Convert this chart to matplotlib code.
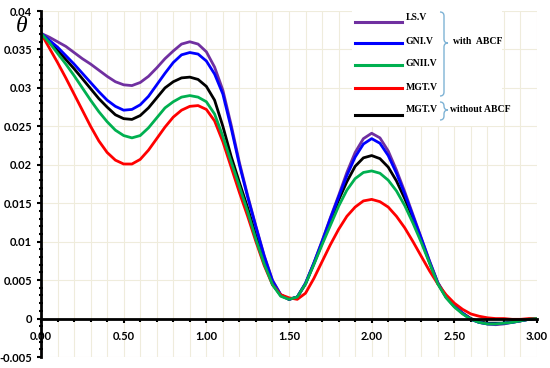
import numpy as np
import matplotlib.pyplot as plt
from matplotlib.lines import Line2D
from matplotlib.patches import Rectangle, PathPatch
from matplotlib.path import Path
from matplotlib.ticker import MultipleLocator, FuncFormatter

# values, step 0.05
x = np.round(np.arange(0, 3.001, 0.05), 2)

ls_v = [0.0371, 0.0366, 0.0360, 0.0354, 0.0346, 0.0338, 0.0331, 0.0323, 0.0315, 0.0308,
        0.0304, 0.0303, 0.0307, 0.0315, 0.0326, 0.0338, 0.0348, 0.0357, 0.0360, 0.0357,
        0.0347, 0.0327, 0.0297, 0.0252, 0.0203, 0.0160, 0.0120, 0.0082, 0.0050, 0.0031,
        0.0025, 0.0028, 0.0046, 0.0072, 0.0101, 0.0131, 0.0160, 0.0190, 0.0216, 0.0234,
        0.0241, 0.0235, 0.0218, 0.0193, 0.0165, 0.0135, 0.0105, 0.0075, 0.0047, 0.0029,
        0.0017, 0.0007, -0.0001, -0.0005, -0.0007, -0.0008, -0.0007, -0.0005, -0.0003, -0.0001,
        0.0]
gn1_v = [0.0371, 0.0362, 0.0353, 0.0342, 0.0331, 0.0319, 0.0307, 0.0295, 0.0284, 0.0276,
         0.0271, 0.0272, 0.0278, 0.0289, 0.0304, 0.0319, 0.0333, 0.0343, 0.0346, 0.0344,
         0.0335, 0.0318, 0.0292, 0.0248, 0.0200, 0.0158, 0.0119, 0.0081, 0.0049, 0.0031,
         0.0025, 0.0028, 0.0046, 0.0072, 0.0100, 0.0130, 0.0158, 0.0186, 0.0210, 0.0227,
         0.0234, 0.0228, 0.0212, 0.0189, 0.0162, 0.0133, 0.0104, 0.0074, 0.0046, 0.0028,
         0.0016, 0.0007, -0.0001, -0.0005, -0.0007, -0.0007, -0.0006, -0.0005, -0.0003, -0.0001,
         0.0]
gn2_v = [0.0371, 0.0359, 0.0345, 0.0331, 0.0316, 0.0300, 0.0284, 0.0269, 0.0256, 0.0245,
         0.0238, 0.0235, 0.0238, 0.0248, 0.0261, 0.0274, 0.0282, 0.0288, 0.0290, 0.0288,
         0.0282, 0.0266, 0.0237, 0.0204, 0.0172, 0.0139, 0.0103, 0.0071, 0.0044, 0.0029,
         0.0025, 0.0028, 0.0045, 0.0070, 0.0096, 0.0121, 0.0146, 0.0167, 0.0182, 0.0190,
         0.0192, 0.0189, 0.0180, 0.0166, 0.0147, 0.0124, 0.0099, 0.0072, 0.0045, 0.0027,
         0.0015, 0.0006, -0.0001, -0.0005, -0.0007, -0.0007, -0.0006, -0.0005, -0.0003, -0.0001,
         0.0]
mgt_v = [0.0371, 0.0352, 0.0333, 0.0313, 0.0292, 0.0271, 0.0250, 0.0231, 0.0216, 0.0206,
         0.0201, 0.0201, 0.0207, 0.0219, 0.0234, 0.0249, 0.0262, 0.0271, 0.0276, 0.0277,
         0.0272, 0.0257, 0.0230, 0.0197, 0.0164, 0.0133, 0.0100, 0.0069, 0.0044, 0.0031,
         0.0027, 0.0025, 0.0033, 0.0052, 0.0074, 0.0096, 0.0116, 0.0133, 0.0145, 0.0153,
         0.0155, 0.0152, 0.0145, 0.0133, 0.0118, 0.0100, 0.0081, 0.0062, 0.0045, 0.0031,
         0.0020, 0.0012, 0.0006, 0.0003, 0.0001, 0.0000, 0.0000, -0.0001, -0.0001, 0.0000,
         0.0]
mgt_no = [0.0371, 0.0360, 0.0349, 0.0337, 0.0325, 0.0312, 0.0299, 0.0286, 0.0275, 0.0265,
          0.0260, 0.0259, 0.0264, 0.0274, 0.0287, 0.0300, 0.0308, 0.0313, 0.0314, 0.0311,
          0.0302, 0.0284, 0.0250, 0.0211, 0.0177, 0.0144, 0.0108, 0.0074, 0.0045, 0.0030,
          0.0025, 0.0028, 0.0045, 0.0071, 0.0098, 0.0126, 0.0154, 0.0178, 0.0198, 0.0209,
          0.0212, 0.0208, 0.0197, 0.0179, 0.0156, 0.0130, 0.0102, 0.0073, 0.0046, 0.0028,
          0.0016, 0.0007, 0.0000, -0.0004, -0.0006, -0.0006, -0.0006, -0.0004, -0.0003, -0.0001,
          0.0]

labels = ["LS.V", "GNI.V", "GNII.V", "MGT.V", "MGT.V"]
colors = ["#7030a0", "#0000ff", "#00b050", "#ff0000", "#000000"]

fig = plt.figure(figsize=(5.5, 3.68), dpi=100)
ax = fig.add_axes([41/550, 1 - 357/368, (537-41)/550, (357-11)/368])

ax.plot(x, mgt_no, color=colors[4], lw=2.0)
ax.plot(x, ls_v, color=colors[0], lw=2.0)
ax.plot(x, gn1_v, color=colors[1], lw=2.0)
ax.plot(x, mgt_v, color=colors[3], lw=2.0)
ax.plot(x, gn2_v, color=colors[2], lw=2.0)

ax.set_xlim(0, 3)
ax.set_ylim(-0.005, 0.04)

ax.xaxis.set_major_locator(MultipleLocator(0.5))
ax.xaxis.set_minor_locator(MultipleLocator(0.1))
ax.yaxis.set_major_locator(MultipleLocator(0.005))
ax.yaxis.set_minor_locator(MultipleLocator(0.001))
ax.xaxis.set_major_formatter(FuncFormatter(lambda v, p: f"{v:.2f}"))
ax.yaxis.set_major_formatter(FuncFormatter(lambda v, p: "0" if abs(v) < 1e-9 else f"{v:g}"))

gc = "#efecdc"
ax.grid(True, which="both", axis="x", color=gc, lw=0.8)
ax.grid(True, which="major", axis="y", color=gc, lw=0.8)
ax.set_axisbelow(True)

for s in ["top", "right"]:
    ax.spines[s].set_visible(False)
ax.spines["bottom"].set_position(("data", 0))
ax.spines["bottom"].set_linewidth(2)
ax.spines["left"].set_linewidth(2)

ax.tick_params(axis="both", which="major", labelsize=8, width=1.5, length=3)
ax.tick_params(axis="y", which="minor", direction="inout", length=2.5, width=1.5)
ax.tick_params(axis="x", which="minor", direction="out", length=2.5, width=1.5)
ax.tick_params(axis="x", which="major", pad=6)
for lab in ax.get_xticklabels() + ax.get_yticklabels():
    lab.set_fontfamily("Lato")
    lab.set_fontweight("bold")

fig.text(22/550, 1 - 27/368, "θ", fontsize=17, style="italic",
         family="Liberation Serif", ha="center", va="center")

# legend, drawn by hand in figure pixels
def fx(px):
    return px / 550

def fy(py):
    return 1 - py / 368

fig.add_artist(Rectangle((fx(352), fy(126)), fx(150), 118/368, transform=fig.transFigure,
                         facecolor="white", edgecolor="none", zorder=5))
rows = [21.7, 42.7, 65, 88.3, 115]
text_rows = [18, 42, 63, 88, 110]
for i in range(5):
    fig.add_artist(Line2D([fx(355), fx(402)], [fy(rows[i]), fy(rows[i])], color=colors[i],
                          lw=2.2, transform=fig.transFigure, zorder=6))
    fig.text(fx(406), fy(text_rows[i]), labels[i], fontsize=7, fontweight="bold",
             family="Liberation Serif", va="center", ha="left", zorder=6)

def brace(x0, y_top, y_tip, y_bot, w=4, tip=4):
    verts = [(x0, y_top), (x0 + w, y_top), (x0 + w, y_top + 4),
             (x0 + w, y_tip - 4),
             (x0 + w, y_tip), (x0 + w + tip, y_tip), (x0 + w + tip, y_tip),
             (x0 + w, y_tip), (x0 + w, y_tip + 4),
             (x0 + w, y_bot - 4),
             (x0 + w, y_bot), (x0, y_bot)]
    codes = [Path.MOVETO, Path.CURVE3, Path.CURVE3, Path.LINETO,
             Path.CURVE3, Path.CURVE3, Path.MOVETO,
             Path.CURVE3, Path.CURVE3, Path.LINETO,
             Path.CURVE3, Path.CURVE3]
    verts = [(fx(a), fy(b)) for a, b in verts]
    fig.add_artist(PathPatch(Path(verts, codes), facecolor="none", edgecolor="#7fb3d5",
                             lw=1.0, transform=fig.transFigure, zorder=6))

brace(440, 12, 43, 96)
brace(440, 102, 110, 120)
fig.text(fx(453), fy(42), "with  ABCF", fontsize=7, fontweight="bold",
         family="Liberation Serif", va="center", ha="left", zorder=6)
fig.text(fx(450), fy(109), "without ABCF", fontsize=7, fontweight="bold",
         family="Liberation Serif", va="center", ha="left", zorder=6)

fig.savefig("out.png", dpi=100)
